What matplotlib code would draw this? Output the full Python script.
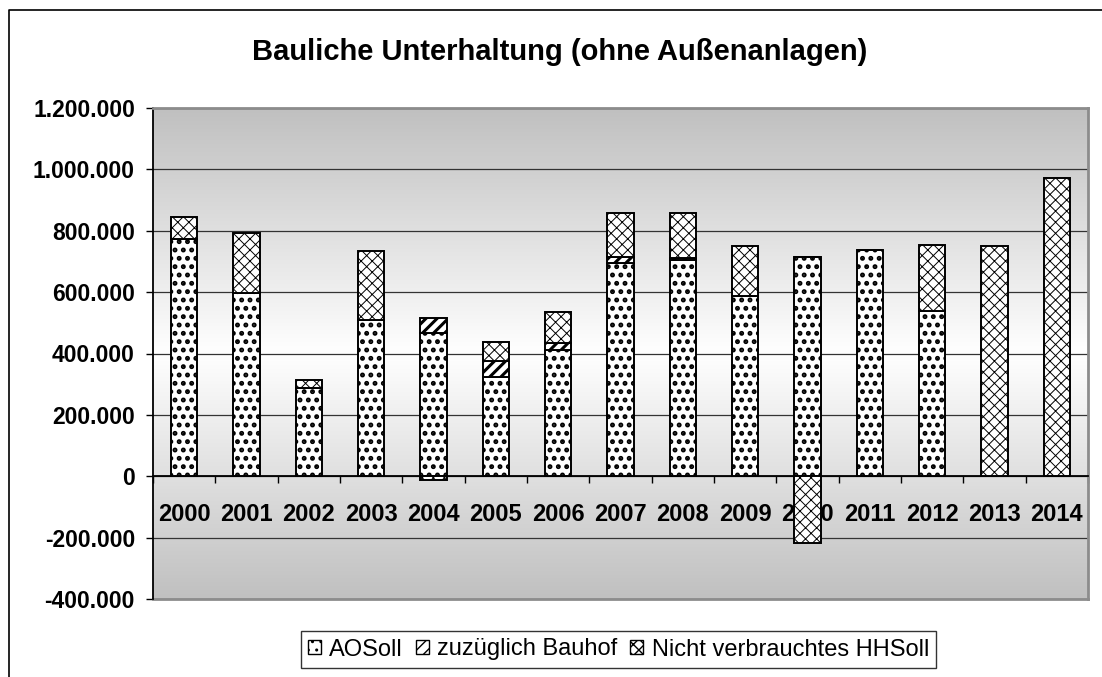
import numpy as np
import matplotlib
matplotlib.use('Agg')
import matplotlib.pyplot as plt
from matplotlib.patches import Patch
from matplotlib.lines import Line2D
from matplotlib.colors import LinearSegmentedColormap

plt.rcParams['font.family'] = ['Liberation Sans', 'DejaVu Sans']

# Werte
jahre = ['2000', '2001', '2002', '2003', '2004', '2005', '2006', '2007',
         '2008', '2009', '2010', '2011', '2012', '2013', '2014']
ao_soll = [773000, 597000, 287000, 510000, 468000, 324000, 413000, 695000,
           705000, 589000, 713000, 738000, 540000, 0, 0]
bauhof = [0, 0, 0, 0, 49000, 53000, 20000, 18000, 5000, 0, 0, 0, 0, 0, 0]
hh_rest = [72000, 195000, 26000, 223000, -12000, 62000, 101000, 146000,
           149000, 160000, -216000, 0, 214000, 749000, 971000]
reihen = ['AOSoll', 'zuzüglich Bauhof', 'Nicht verbrauchtes HHSoll']
y_ticks = [-400000, -200000, 0, 200000, 400000, 600000, 800000, 1000000, 1200000]


def fmt_de(v):
    """Tausendertrennzeichen wie in Excel (deutsch)"""
    return f"{int(v):,}".replace(',', '.')


W, H = 1102, 677
fig = plt.figure(figsize=(W / 100, H / 100), dpi=100)
ax = fig.add_axes([153 / W, 1 - 599 / H, 935 / W, 491 / H])

x = np.arange(len(jahre))
ax.set_xlim(-0.5, len(jahre) - 0.5)
ax.set_ylim(y_ticks[0], y_ticks[-1])

# Hintergrund-Verlauf (grau - weiss - grau)
cmap = LinearSegmentedColormap.from_list('bg', ['#c0c0c0', '#ffffff', '#c0c0c0'])
grad = np.linspace(0, 1, 256).reshape(-1, 1)
ax.imshow(grad, cmap=cmap, aspect='auto', origin='lower',
          extent=[-0.5, len(jahre) - 0.5, y_ticks[0], y_ticks[-1]], zorder=0)

# gestapelte Säulen, negative Werte nach unten
pos = np.zeros(len(jahre))
neg = np.zeros(len(jahre))
hatches = ['..', '///', 'xxx']
hatch_lw = [2.3, 2.2, 0.7]
for vals, hatch, hlw in zip([ao_soll, bauhof, hh_rest], hatches, hatch_lw):
    vals = np.array(vals, dtype=float)
    bottom = np.where(vals >= 0, pos, neg)
    bars = ax.bar(x, vals, width=0.42, bottom=bottom, color='white',
                  edgecolor='black', linewidth=1.4, hatch=hatch, zorder=3)
    for b in bars:
        try:
            b.set_hatch_linewidth(hlw)
        except AttributeError:
            plt.rcParams['hatch.linewidth'] = 1.4
    pos = pos + np.where(vals >= 0, vals, 0)
    neg = neg + np.where(vals < 0, vals, 0)

# Achsen
ax.set_yticks(y_ticks)
ax.set_yticklabels([fmt_de(v) for v in y_ticks], fontsize=16.5, fontweight='bold')
ax.tick_params(axis='y', direction='out', length=5, width=1, pad=8, color='black')
ax.yaxis.grid(True, color='#333333', linewidth=0.9)

ax.spines['bottom'].set_position(('data', 0))
ax.spines['bottom'].set_linewidth(1.3)
ax.spines['left'].set_linewidth(1.3)
for s in ['top', 'right']:
    ax.spines[s].set_color('#8c8c8c')
    ax.spines[s].set_linewidth(2)
ax.plot([0, 1], [0, 0], transform=ax.transAxes, color='#8c8c8c', lw=2,
        clip_on=False, zorder=2.5)

ax.set_xticks(x)
ax.set_xticklabels(jahre, fontsize=17, fontweight='bold')
ax.set_xticks(np.arange(-0.5, len(jahre), 1), minor=True)
ax.tick_params(axis='x', which='major', length=0, pad=19)
ax.tick_params(axis='x', which='minor', direction='out', length=5, width=1)

# Titel
fig.text(0.508, 1 - 60 / H, 'Bauliche Unterhaltung (ohne Außenanlagen)',
         ha='center', va='baseline', fontsize=21, fontweight='bold')

# Legende
handles = [Patch(facecolor='white', edgecolor='black', hatch=h, linewidth=1)
           for h in hatches]
leg = fig.legend(handles, reihen, loc='center', bbox_to_anchor=(618.5 / W, 1 - 649.5 / H),
                 ncol=3, fontsize=17, frameon=True, fancybox=False,
                 handlelength=0.55, handleheight=0.55, handletextpad=0.35,
                 columnspacing=0.55, borderpad=0.3)
leg.get_frame().set_edgecolor('black')
leg.get_frame().set_linewidth(1)

# Rahmen um das Diagramm (nur links und oben sichtbar)
fig.add_artist(Line2D([9 / W, 9 / W, 1.0], [0.0, 1 - 10 / H, 1 - 10 / H],
                      transform=fig.transFigure, color='black', lw=1.2))

fig.savefig('out.png', dpi=100)
